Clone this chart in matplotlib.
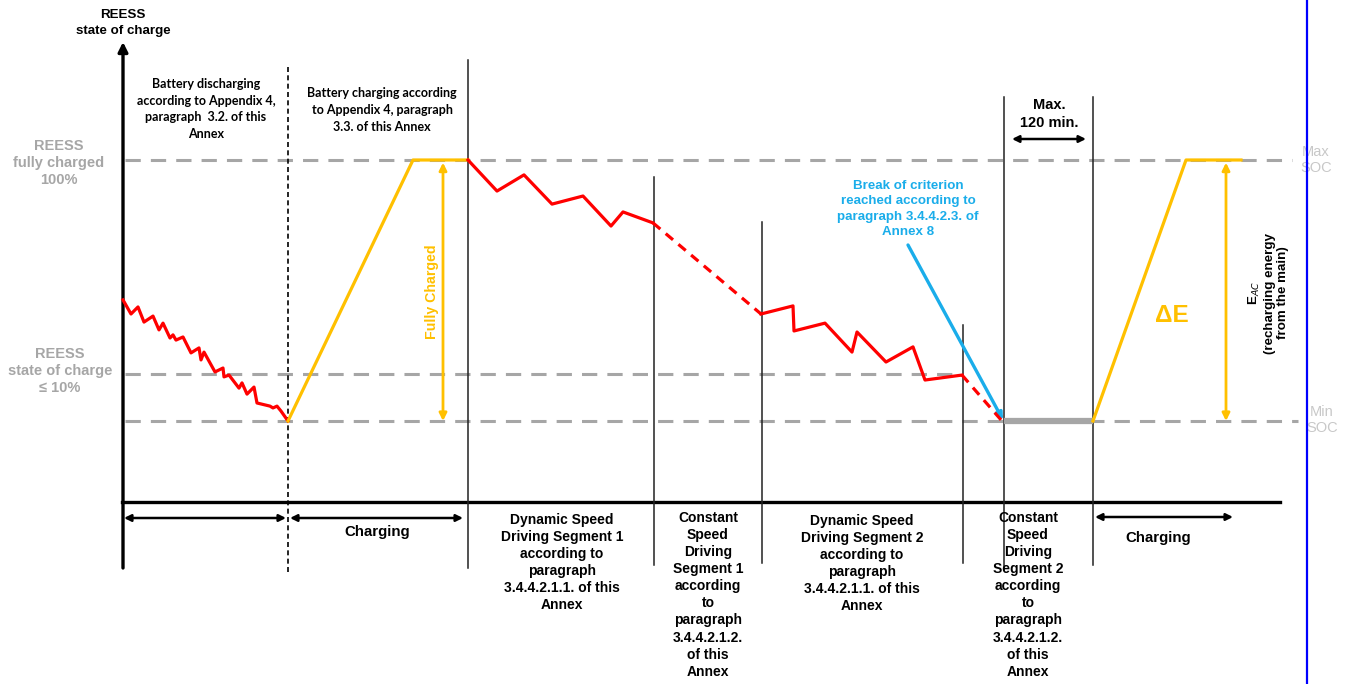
import matplotlib
matplotlib.use('Agg')
import matplotlib.pyplot as plt

plt.rcParams['font.family'] = ['Liberation Sans', 'DejaVu Sans']
plt.rcParams['mathtext.fontset'] = 'custom'
plt.rcParams['mathtext.bf'] = 'Liberation Sans:bold'
plt.rcParams['mathtext.rm'] = 'Liberation Sans:bold'

# time axis is schematic, SOC in % (0 = min SOC, 100 = max SOC)
PX = 2.61          # pixels per % SOC
Y0 = 421           # pixel row of min SOC


def soc_px(y):
    return (Y0 - y) / PX


# discharge before test
t_dis = [123, 131, 138, 144, 153, 159, 163, 170, 173, 176, 183, 191, 199, 201, 204,
         215, 223, 224, 229, 239, 242, 247, 254, 257, 270, 273, 277, 281, 288]
soc_dis = [46.4, 41.0, 43.7, 37.9, 40.2, 34.9, 37.5, 31.8, 33.0, 31.0, 32.2, 26.1, 28.0,
           23.4, 26.4, 18.8, 20.3, 16.9, 17.6, 12.6, 14.6, 10.3, 13.0, 6.9, 5.7, 5.0,
           5.7, 3.8, 0.0]

# first full charge
t_chg1 = [288, 413, 468]
soc_chg1 = [0, 100, 100]

# dynamic segment 1
t_dyn1 = [468, 497, 524, 552, 583, 611, 623, 653]
soc_dyn1 = [100, 88.1, 94.3, 83.1, 86.2, 74.7, 80.1, 75.9]

# constant segment 1 (dashed)
t_cst1 = [653, 761]
soc_cst1 = [75.9, 41.0]

# dynamic segment 2
t_dyn2 = [761, 793, 794, 825, 852, 857, 886, 913, 925, 962]
soc_dyn2 = [41.0, 44.1, 34.5, 37.5, 26.4, 34.1, 22.6, 28.4, 15.7, 17.6]

# constant segment 2 (dashed) until break-off
t_cst2 = [962, 1002]
soc_cst2 = [17.6, 0.0]

# waiting time (max 120 min)
t_wait = [1004, 1093]
soc_wait = [0, 0]

# recharge
t_chg2 = [1093, 1186, 1241]
soc_chg2 = [0, 100, 100]

soc_max = 100
soc_low = 18
soc_min = 0

# segment boundaries and their ends (pixel rows)
t_bounds = [468, 654, 762, 963, 1004, 1093]
top_bounds = [60, 177, 222, 325, 97, 97]
bottom_bounds = [568, 565, 563, 563, 570, 565]

RED = '#FF0000'
YEL = '#FFC000'
GRAY = '#A6A6A6'
BLUE = '#1AADEA'

fig = plt.figure(figsize=(13.51, 6.84), dpi=100)
ax = fig.add_axes([0, 0, 1, 1])
ax.set_xlim(0, 1351)
ax.set_ylim(soc_px(684), soc_px(0))
ax.axis('off')

# reference levels
dash = dict(color=GRAY, lw=2.2, dashes=(5, 3.3), zorder=1)
ax.plot([125, 1292], [soc_max, soc_max], **dash)
ax.plot([125, 960], [soc_low, soc_low], **dash)
ax.plot([125, 1298], [soc_min, soc_min], **dash)

# axes
ax.annotate('', xy=(123, soc_px(42)), xytext=(123, soc_px(568)),
            arrowprops=dict(arrowstyle='-|>', color='black', lw=2.4, mutation_scale=14,
                            shrinkA=0, shrinkB=0))
ax.plot([122, 1280], [soc_px(502), soc_px(502)], color='black', lw=2.4)

# boundaries
ax.plot([288, 288], [soc_px(67), soc_px(572)], color='black', lw=1.2, ls=(0, (3, 2)))
for t, top, bot in zip(t_bounds, top_bounds, bottom_bounds):
    ax.plot([t, t], [soc_px(top), soc_px(bot)], color='#222222', lw=1.1, zorder=2)

# SOC curves
ax.plot(t_dis, soc_dis, color=RED, lw=2.3, zorder=4)
ax.plot(t_chg1, soc_chg1, color=YEL, lw=2.3, zorder=4)
ax.plot(t_dyn1, soc_dyn1, color=RED, lw=2.3, zorder=4)
ax.plot(t_cst1, soc_cst1, color=RED, lw=2.3, ls=(0, (3, 2.2)), zorder=4)
ax.plot(t_dyn2, soc_dyn2, color=RED, lw=2.3, zorder=4)
ax.plot(t_cst2, soc_cst2, color=RED, lw=2.3, ls=(0, (3, 2.2)), zorder=4)
ax.plot(t_wait, soc_wait, color=GRAY, lw=4.5, solid_capstyle='butt', zorder=4)
ax.plot(t_chg2, soc_chg2, color=YEL, lw=2.3, zorder=4)

# yellow double arrows
yarrow = dict(arrowstyle='<|-|>', color=YEL, lw=2, mutation_scale=11, shrinkA=0, shrinkB=0)
ax.annotate('', xy=(443, soc_max - 1), xytext=(443, soc_min), arrowprops=yarrow)
ax.annotate('', xy=(1226, soc_max - 1), xytext=(1226, soc_min), arrowprops=yarrow)
ax.text(432, soc_px(292), 'Fully Charged', color=YEL, fontsize=10.2, fontweight='bold',
        rotation=90, ha='center', va='center')
ax.text(1172, soc_px(315), 'ΔE', color=YEL, fontsize=17.5, fontweight='bold',
        ha='center', va='center')
ax.text(1268, soc_px(293), 'E$_{AC}$\n(recharging energy\nfrom the main)', fontsize=9.6,
        fontweight='bold', rotation=90, ha='center', va='center', linespacing=1.2)

# break-off annotation
ax.annotate('', xy=(1003, soc_px(420)), xytext=(908, soc_px(245)),
            arrowprops=dict(arrowstyle='-|>', color=BLUE, lw=2.4, mutation_scale=10,
                            shrinkA=0, shrinkB=0))
ax.text(908, soc_px(209), 'Break of criterion\nreached according to\nparagraph 3.4.4.2.3. of\nAnnex 8',
        color=BLUE, fontsize=9.6, fontweight='bold', ha='center', va='center', linespacing=1.35)

# max 120 min
ax.annotate('', xy=(1012, soc_px(139)), xytext=(1086, soc_px(139)),
            arrowprops=dict(arrowstyle='<|-|>', color='black', lw=1.8, mutation_scale=10,
                            shrinkA=0, shrinkB=0))
ax.text(1049, soc_px(114), 'Max.\n120 min.', fontsize=10.5, fontweight='bold',
        ha='center', va='center', linespacing=1.3)

# bottom phase arrows
barrow = dict(arrowstyle='<|-|>', color='black', lw=1.8, mutation_scale=10, shrinkA=0, shrinkB=0)
ax.annotate('', xy=(124, soc_px(518)), xytext=(286, soc_px(518)), arrowprops=barrow)
ax.annotate('', xy=(290, soc_px(518)), xytext=(463, soc_px(518)), arrowprops=barrow)
ax.annotate('', xy=(1095, soc_px(517)), xytext=(1233, soc_px(517)), arrowprops=barrow)
ax.text(377, soc_px(532), 'Charging', fontsize=10.8, fontweight='bold', ha='center', va='center')
ax.text(1158, soc_px(538), 'Charging', fontsize=10.8, fontweight='bold', ha='center', va='center')

dyn_txt = 'Dynamic Speed\nDriving Segment {}\naccording to\nparagraph\n3.4.4.2.1.1. of this\nAnnex'
cst_txt = 'Constant\nSpeed\nDriving\nSegment {}\naccording\nto\nparagraph\n3.4.4.2.1.2.\nof this\nAnnex'
lab = dict(fontsize=10, fontweight='bold', ha='center', va='top', linespacing=1.28)
ax.text(562, soc_px(513), dyn_txt.format(1), **lab)
ax.text(708, soc_px(511), cst_txt.format(1), **lab)
ax.text(862, soc_px(514), dyn_txt.format(2), **lab)
ax.text(1028, soc_px(511), cst_txt.format(2), **lab)

# top notes
note = dict(fontsize=9, fontweight='bold', ha='center', va='center', linespacing=1.47,
            family=['Lato', 'DejaVu Sans'])
ax.text(206, soc_px(109), 'Battery discharging\naccording to Appendix 4,\nparagraph  3.2. of this\nAnnex', **note)
ax.text(382, soc_px(110), 'Battery charging according\nto Appendix 4, paragraph\n3.3. of this Annex', **note)

# y-axis labels
ax.text(123, soc_px(23), 'REESS\nstate of charge', fontsize=9.6, fontweight='bold',
        ha='center', va='center', linespacing=1.35)
ax.text(59, soc_px(163), 'REESS\nfully charged\n100%', color=GRAY, fontsize=10.5, fontweight='bold',
        ha='center', va='center', linespacing=1.29)
ax.text(60, soc_px(371), 'REESS\nstate of charge\n≤ 10%', color=GRAY, fontsize=10.5, fontweight='bold',
        ha='center', va='center', linespacing=1.29)
ax.text(1316, soc_px(160), 'Max\nSOC', color='#C8C8C8', fontsize=10.5, ha='center', va='center',
        linespacing=1.25)
ax.text(1322, soc_px(420), 'Min\nSOC', color='#C8C8C8', fontsize=10.5, ha='center', va='center',
        linespacing=1.25)

# page border line
ax.plot([1307, 1307], [soc_px(0), soc_px(684)], color='#0000FF', lw=1.6, zorder=6)

fig.savefig('out.png', dpi=100)
